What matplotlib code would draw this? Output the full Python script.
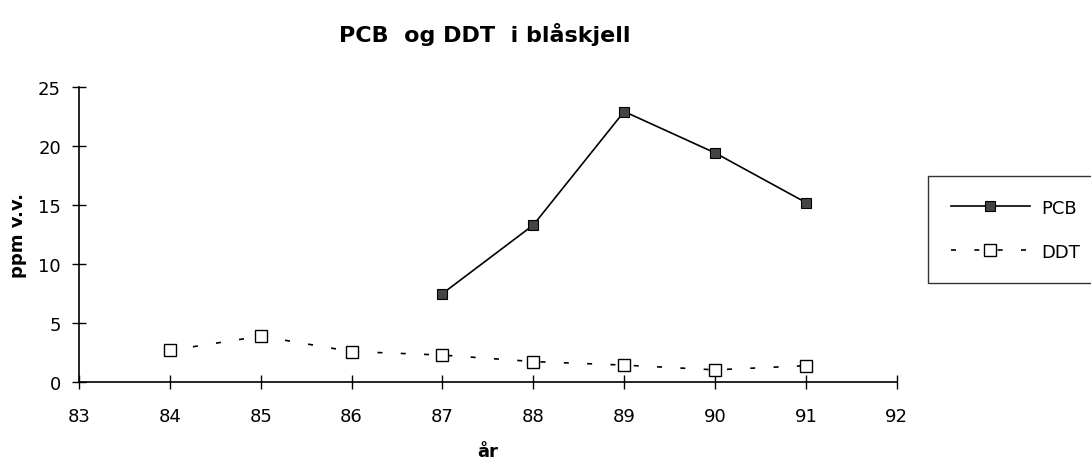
import matplotlib
matplotlib.use("Agg")
import matplotlib.pyplot as plt

plt.rcParams['font.family'] = ['DejaVu Sans']

years = [83, 84, 85, 86, 87, 88, 89, 90, 91, 92]
pcb_years = [87, 88, 89, 90, 91]
pcb_values = [7.5, 13.3, 22.9, 19.4, 15.2]
ddt_years = [84, 85, 86, 87, 88, 89, 90, 91]
ddt_values = [2.7, 3.9, 2.6, 2.3, 1.75, 1.45, 1.05, 1.4]
yticks = [0, 5, 10, 15, 20, 25]

fig = plt.figure(figsize=(10.91, 4.64), dpi=100)
ax = fig.add_axes([0.0724, 0.174, 0.822 - 0.0724, 0.811 - 0.174])

ax.plot(pcb_years, pcb_values, color='black', linewidth=1.2, marker='s',
        markersize=7, markerfacecolor='#444444', markeredgecolor='black',
        markeredgewidth=0.8, label='PCB')
ax.plot(ddt_years, ddt_values, color='black', linewidth=1.2, linestyle=(0, (3, 11)),
        marker='s', markersize=8, markerfacecolor='white', markeredgecolor='black',
        markeredgewidth=1.0, label='DDT')

ax.set_xlim(83, 92)
ax.set_ylim(0, 25)
ax.set_xticks(years)
ax.set_yticks(yticks)
for s in ['top', 'right']:
    ax.spines[s].set_visible(False)
for s in ['left', 'bottom']:
    ax.spines[s].set_linewidth(1.2)
ax.tick_params(direction='inout', length=10, width=1.0, labelsize=13)
ax.tick_params(axis='x', pad=13)
ax.tick_params(axis='y', pad=8)

ax.set_xlabel('år', fontsize=13, fontweight='bold', labelpad=12)
ax.set_ylabel('ppm v.v.', fontsize=13, fontweight='bold', labelpad=8)
fig.text(0.444, 0.925, 'PCB  og DDT  i blåskjell', ha='center', va='center',
         fontsize=16, fontweight='bold')

leg = fig.legend(loc='upper left', bbox_to_anchor=(0.8506, 0.6185), fontsize=13,
                 handlelength=4.4, frameon=True, fancybox=False, edgecolor='black',
                 borderpad=1.25, labelspacing=1.45, handletextpad=0.6, borderaxespad=0)
leg.get_frame().set_linewidth(1.0)

fig.savefig('out.png', dpi=100)
